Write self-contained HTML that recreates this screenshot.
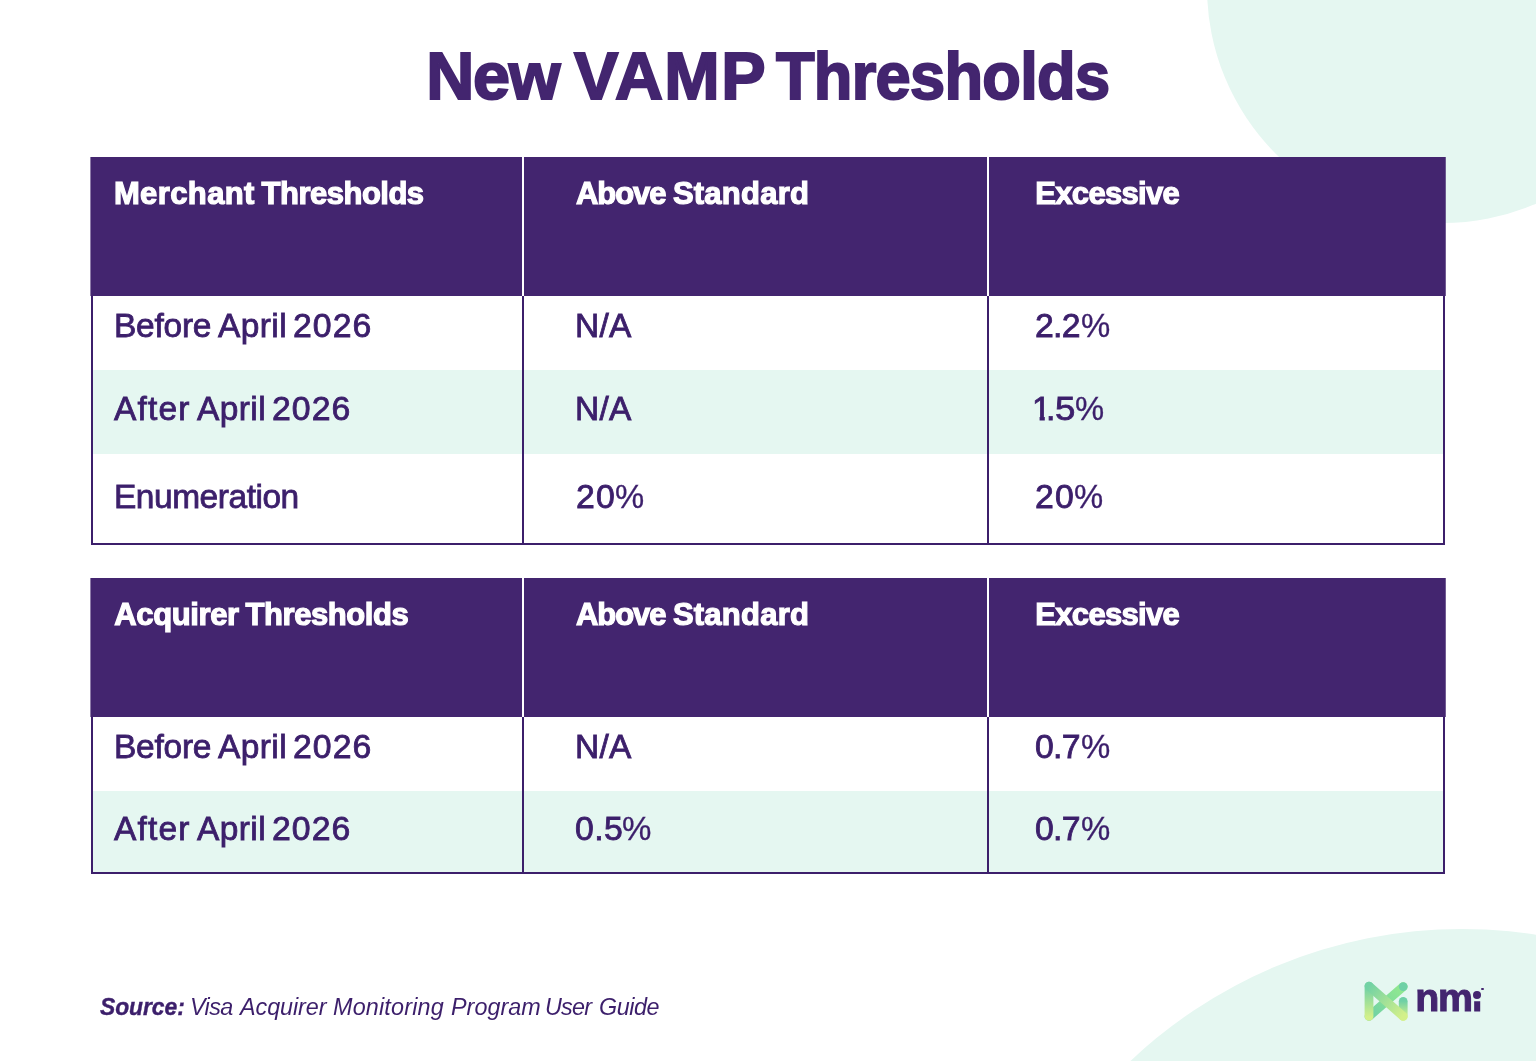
<!DOCTYPE html>
<html lang="en">
<head>
<meta charset="utf-8">
<title>New VAMP Thresholds</title>
<style>
html,body{margin:0;padding:0;}
body{width:1536px;height:1061px;position:relative;overflow:hidden;background:#fff;font-family:"Liberation Sans",sans-serif;color:#3c1f6b;}
.abs{position:absolute;}
.circ{position:absolute;border-radius:50%;background:#e5f7f1;}
.hd{position:absolute;background:#43256f;}
.mint{position:absolute;background:#e5f7f1;}
.ln{position:absolute;background:#3c1f6b;}
.wl{position:absolute;background:#fff;}
.t{position:absolute;white-space:nowrap;line-height:1;margin:0;padding:0;}
.g{margin:0;padding:0;}
.title{font-weight:700;color:#43256f;-webkit-text-stroke:2px #43256f;}
.th{font-weight:700;color:#fff;-webkit-text-stroke:1.2px #fff;}
.td{font-weight:400;color:#3c1f6b;-webkit-text-stroke:0.8px #3c1f6b;}
.num{-webkit-text-stroke:0.8px #3c1f6b;}
.pct{-webkit-text-stroke:0.3px #3c1f6b;}
.srcb{font-style:italic;font-weight:700;color:#3c1f6b;-webkit-text-stroke:0.4px #3c1f6b;}
.srct{font-style:italic;font-weight:400;color:#3c1f6b;}
.nmi{font-weight:700;color:#43256f;-webkit-text-stroke:1px #43256f;}
</style>
</head>
<body>
<!-- background shapes -->
<div class="circ" style="left:1207.4px;top:-248.4px;width:471px;height:471px;"></div>
<div class="circ" style="left:980px;top:929.4px;width:963.6px;height:963.6px;"></div>
<!-- title -->
<h1 class="g title" style="font-size:66.5px;"><span class="t" id="title_0" style="left:426.28px;top:42.71px;letter-spacing:-1.232px;">New</span> <span class="t" id="title_1" style="left:574.09px;top:42.71px;letter-spacing:1.424px;">VAMP</span> <span class="t" id="title_2" style="left:776.37px;top:42.71px;letter-spacing:-0.757px;transform:scaleX(0.95);transform-origin:0 0;">Thresholds</span></h1>
<!-- table 1 -->
<div class="abs" style="left:91px;top:157px;width:1354px;height:388px;background:#fff;"></div>
<div class="mint" style="left:91px;top:370px;width:1354px;height:84px;"></div>
<div class="hd" style="left:91px;top:157px;width:1354px;height:139px;"></div>
<div class="hd" style="left:90px;top:157px;width:1px;height:139px;opacity:.6;"></div>
<div class="hd" style="left:1445px;top:157px;width:1px;height:139px;opacity:.75;"></div>
<div class="wl" style="left:522px;top:157px;width:2px;height:139px;"></div>
<div class="wl" style="left:987px;top:157px;width:2px;height:139px;"></div>
<div class="ln" style="left:91px;top:296px;width:2px;height:249px;"></div>
<div class="ln" style="left:522px;top:296px;width:2px;height:249px;"></div>
<div class="ln" style="left:987px;top:296px;width:2px;height:249px;"></div>
<div class="ln" style="left:1443px;top:296px;width:2px;height:249px;"></div>
<div class="ln" style="left:91px;top:543px;width:1354px;height:2px;"></div>
<div class="g th" style="font-size:31px;"><span class="t" id="h1a_0" style="left:113.88px;top:178.26px;letter-spacing:0.390px;">Merchant</span> <span class="t" id="h1a_1" style="left:261.56px;top:178.26px;letter-spacing:-0.502px;">Thresholds</span></div>
<div class="g th" style="font-size:31px;"><span class="t" id="h1b_0" style="left:575.93px;top:178.26px;letter-spacing:-1.020px;">Above</span> <span class="t" id="h1b_1" style="left:672.92px;top:178.26px;letter-spacing:0.234px;">Standard</span></div>
<div class="g th" style="font-size:31px;"><span class="t" id="h1c_0" style="left:1035.24px;top:178.26px;letter-spacing:-0.668px;">Excessive</span></div>
<div class="g td" style="font-size:32.5px;"><span class="t" id="r1a_0" style="left:114.00px;top:310.19px;letter-spacing:-0.232px;transform:scaleX(1.03);transform-origin:0 0;">Before</span> <span class="t" id="r1a_1" style="left:218.10px;top:310.19px;letter-spacing:0.403px;transform:scaleX(1.03);transform-origin:0 0;">April</span> <span class="t num" id="r1a_2" style="left:293.41px;top:310.19px;letter-spacing:1.005px;transform:scaleX(1.04);transform-origin:0 0;">2026</span></div>
<div class="g td" style="font-size:32.5px;"><span class="t" id="r1b_0" style="left:574.85px;top:310.19px;letter-spacing:0.315px;transform:scaleX(1.03);transform-origin:0 0;">N/A</span></div>
<div class="g td" style="font-size:32.5px;"><span class="t num" id="r1c_0" style="left:1035.06px;top:310.19px;letter-spacing:-0.680px;transform:scaleX(1.04);transform-origin:0 0;">2.2</span><span class="t pct" id="r1c_1" style="left:1081.15px;top:310.19px;letter-spacing:0.000px;transform:scaleX(1.0129357177601965);transform-origin:0 0;">%</span></div>
<div class="g td" style="font-size:32.5px;"><span class="t" id="r2a_0" style="left:114.41px;top:392.69px;letter-spacing:1.118px;transform:scaleX(1.03);transform-origin:0 0;">After</span> <span class="t" id="r2a_1" style="left:196.75px;top:392.69px;letter-spacing:0.400px;transform:scaleX(1.03);transform-origin:0 0;">April</span> <span class="t num" id="r2a_2" style="left:271.85px;top:392.69px;letter-spacing:0.984px;transform:scaleX(1.04);transform-origin:0 0;">2026</span></div>
<div class="g td" style="font-size:32.5px;"><span class="t" id="r2b_0" style="left:574.86px;top:392.69px;letter-spacing:0.303px;transform:scaleX(1.03);transform-origin:0 0;">N/A</span></div>
<div class="g td" style="font-size:32.5px;"><span class="t num" id="r2c_0" style="left:1032.10px;top:392.69px;letter-spacing:0.000px;transform:scaleX(1.04);transform-origin:0 0;clip-path:polygon(0 0,12.3px 0,12.3px 32.5px,7.3px 32.5px,7.3px 24px,0 24px);">1</span><span class="t num" id="r2c_1" style="left:1045.71px;top:392.69px;letter-spacing:0.000px;transform:scaleX(1.04);transform-origin:0 0;">.</span><span class="t num" id="r2c_2" style="left:1055.17px;top:392.69px;letter-spacing:0.000px;transform:scaleX(1.1269004631922461);transform-origin:0 0;">5</span><span class="t pct" id="r2c_3" style="left:1074.80px;top:392.69px;letter-spacing:0.000px;transform:scaleX(1.0089341703846089);transform-origin:0 0;">%</span></div>
<div class="g td" style="font-size:32.5px;"><span class="t" id="r3a_0" style="left:114.00px;top:480.69px;letter-spacing:-0.444px;transform:scaleX(1.03);transform-origin:0 0;">Enumeration</span></div>
<div class="g td" style="font-size:32.5px;"><span class="t num" id="r3b_0" style="left:575.86px;top:480.69px;letter-spacing:1.155px;transform:scaleX(1.04);transform-origin:0 0;">20</span><span class="t pct" id="r3b_1" style="left:614.62px;top:480.69px;letter-spacing:0.000px;transform:scaleX(1.0096833933778706);transform-origin:0 0;">%</span></div>
<div class="g td" style="font-size:32.5px;"><span class="t num" id="r3c_0" style="left:1035.06px;top:480.69px;letter-spacing:1.158px;transform:scaleX(1.04);transform-origin:0 0;">20</span><span class="t pct" id="r3c_1" style="left:1073.79px;top:480.69px;letter-spacing:0.000px;transform:scaleX(1.0095364241657332);transform-origin:0 0;">%</span></div>
<!-- table 2 -->
<div class="abs" style="left:91px;top:578px;width:1354px;height:296px;background:#fff;"></div>
<div class="mint" style="left:91px;top:791px;width:1354px;height:83px;"></div>
<div class="hd" style="left:91px;top:578px;width:1354px;height:139px;"></div>
<div class="hd" style="left:90px;top:578px;width:1px;height:139px;opacity:.6;"></div>
<div class="hd" style="left:1445px;top:578px;width:1px;height:139px;opacity:.75;"></div>
<div class="wl" style="left:522px;top:578px;width:2px;height:139px;"></div>
<div class="wl" style="left:987px;top:578px;width:2px;height:139px;"></div>
<div class="ln" style="left:91px;top:717px;width:2px;height:157px;"></div>
<div class="ln" style="left:522px;top:717px;width:2px;height:157px;"></div>
<div class="ln" style="left:987px;top:717px;width:2px;height:157px;"></div>
<div class="ln" style="left:1443px;top:717px;width:2px;height:157px;"></div>
<div class="ln" style="left:91px;top:872px;width:1354px;height:2px;"></div>
<div class="g th" style="font-size:31px;"><span class="t" id="h2a_0" style="left:114.26px;top:598.76px;letter-spacing:-0.367px;">Acquirer</span> <span class="t" id="h2a_1" style="left:245.44px;top:598.76px;letter-spacing:-0.416px;">Thresholds</span></div>
<div class="g th" style="font-size:31px;"><span class="t" id="h2b_0" style="left:575.93px;top:598.76px;letter-spacing:-1.020px;">Above</span> <span class="t" id="h2b_1" style="left:672.92px;top:598.76px;letter-spacing:0.234px;">Standard</span></div>
<div class="g th" style="font-size:31px;"><span class="t" id="h2c_0" style="left:1035.24px;top:598.76px;letter-spacing:-0.668px;">Excessive</span></div>
<div class="g td" style="font-size:32.5px;"><span class="t" id="r4a_0" style="left:114.00px;top:730.79px;letter-spacing:-0.232px;transform:scaleX(1.03);transform-origin:0 0;">Before</span> <span class="t" id="r4a_1" style="left:218.10px;top:730.79px;letter-spacing:0.403px;transform:scaleX(1.03);transform-origin:0 0;">April</span> <span class="t num" id="r4a_2" style="left:293.41px;top:730.79px;letter-spacing:1.005px;transform:scaleX(1.04);transform-origin:0 0;">2026</span></div>
<div class="g td" style="font-size:32.5px;"><span class="t" id="r4b_0" style="left:574.85px;top:730.79px;letter-spacing:0.315px;transform:scaleX(1.03);transform-origin:0 0;">N/A</span></div>
<div class="g td" style="font-size:32.5px;"><span class="t num" id="r4c_0" style="left:1035.02px;top:730.79px;letter-spacing:-0.714px;transform:scaleX(1.04);transform-origin:0 0;">0.7</span><span class="t pct" id="r4c_1" style="left:1081.14px;top:730.79px;letter-spacing:0.000px;transform:scaleX(1.0135677278394954);transform-origin:0 0;">%</span></div>
<div class="g td" style="font-size:32.5px;"><span class="t" id="r5a_0" style="left:114.41px;top:812.99px;letter-spacing:1.118px;transform:scaleX(1.03);transform-origin:0 0;">After</span> <span class="t" id="r5a_1" style="left:196.75px;top:812.99px;letter-spacing:0.400px;transform:scaleX(1.03);transform-origin:0 0;">April</span> <span class="t num" id="r5a_2" style="left:271.85px;top:812.99px;letter-spacing:0.984px;transform:scaleX(1.04);transform-origin:0 0;">2026</span></div>
<div class="g td" style="font-size:32.5px;"><span class="t num" id="r5b_0" style="left:575.16px;top:812.99px;letter-spacing:0.345px;transform:scaleX(1.04);transform-origin:0 0;">0.5</span><span class="t pct" id="r5b_1" style="left:621.97px;top:812.99px;letter-spacing:0.000px;transform:scaleX(1.0180638875459307);transform-origin:0 0;">%</span></div>
<div class="g td" style="font-size:32.5px;"><span class="t num" id="r5c_0" style="left:1035.06px;top:812.99px;letter-spacing:-0.743px;transform:scaleX(1.04);transform-origin:0 0;">0.7</span><span class="t pct" id="r5c_1" style="left:1081.15px;top:812.99px;letter-spacing:0.000px;transform:scaleX(1.0135310813916398);transform-origin:0 0;">%</span></div>
<!-- footer -->
<div class="g srcb" style="font-size:24.6px;"><span class="t" id="srcb_0" style="left:99.73px;top:995.18px;letter-spacing:-0.062px;transform:scaleX(0.93);transform-origin:0 0;">Source:</span></div>
<div class="g srct" style="font-size:24.6px;"><span class="t" id="srct_0" style="left:189.90px;top:995.18px;letter-spacing:-0.609px;transform:scaleX(0.95);transform-origin:0 0;">Visa</span> <span class="t" id="srct_1" style="left:239.64px;top:995.18px;letter-spacing:-0.070px;transform:scaleX(0.95);transform-origin:0 0;">Acquirer</span> <span class="t" id="srct_2" style="left:333.04px;top:995.18px;letter-spacing:0.192px;transform:scaleX(0.95);transform-origin:0 0;">Monitoring</span> <span class="t" id="srct_3" style="left:450.84px;top:995.18px;letter-spacing:0.027px;transform:scaleX(0.95);transform-origin:0 0;">Program</span> <span class="t" id="srct_4" style="left:545.00px;top:995.18px;letter-spacing:-0.827px;transform:scaleX(0.95);transform-origin:0 0;">User</span> <span class="t" id="srct_5" style="left:598.90px;top:995.18px;letter-spacing:-0.478px;transform:scaleX(0.95);transform-origin:0 0;">Guide</span></div>
<!-- logo -->
<svg class="abs" style="left:1360px;top:976px;" width="56" height="52" viewBox="1360 976 56 52">
<defs>
<linearGradient id="gv" x1="0" y1="986" x2="0" y2="1017" gradientUnits="userSpaceOnUse"><stop offset="0" stop-color="#6fd0a6"/><stop offset="1" stop-color="#d3f08a"/></linearGradient>
<linearGradient id="gd" x1="1369" y1="986" x2="1403" y2="1016" gradientUnits="userSpaceOnUse"><stop offset="0" stop-color="#72d2a4"/><stop offset="1" stop-color="#d3f08a"/></linearGradient>
<linearGradient id="gu" x1="1369" y1="1016" x2="1403" y2="986" gradientUnits="userSpaceOnUse"><stop offset="0" stop-color="#6fd0a6"/><stop offset="1" stop-color="#93ea8e"/></linearGradient>
<linearGradient id="gr" x1="0" y1="1001" x2="0" y2="1017" gradientUnits="userSpaceOnUse"><stop offset="0" stop-color="#6fd0a6"/><stop offset="1" stop-color="#d3f08a"/></linearGradient>
</defs>
<g fill="none" stroke-width="8.8" stroke-linecap="round">
<line x1="1369" y1="1016.4" x2="1403.2" y2="986.6" stroke="url(#gu)"/>
<circle cx="1403.2" cy="986.6" r="4.4" fill="#6fd0a6" stroke="none"/>
<line x1="1403.2" y1="1001.3" x2="1403.2" y2="1016.4" stroke="url(#gr)"/>
<line x1="1369" y1="986.1" x2="1369" y2="1016.4" stroke="url(#gv)"/>
<line x1="1369" y1="986.1" x2="1403.2" y2="1016.4" stroke="url(#gd)"/>
</g>
</svg>

<div class="g nmi" style="font-size:39.4px;"><span class="t" id="nmi_0" style="left:1415.22px;top:978.45px;letter-spacing:-1.276px;">nm</span><span class="t" id="nmi_1" style="left:1472.47px;top:978.45px;letter-spacing:-2.539px;transform:scaleX(0.9915986815077291);transform-origin:0 0;clip-path:inset(22.80px 0 0 0);">i</span></div>
<div class="abs" style="left:1473.1px;top:991px;width:7.8px;height:7.8px;border-radius:50%;background:#43256f;"></div>
<div class="abs" style="left:1481.3px;top:988.1px;width:2.4px;height:2.4px;border-radius:50%;background:#43256f;"></div>
</body>
</html>
